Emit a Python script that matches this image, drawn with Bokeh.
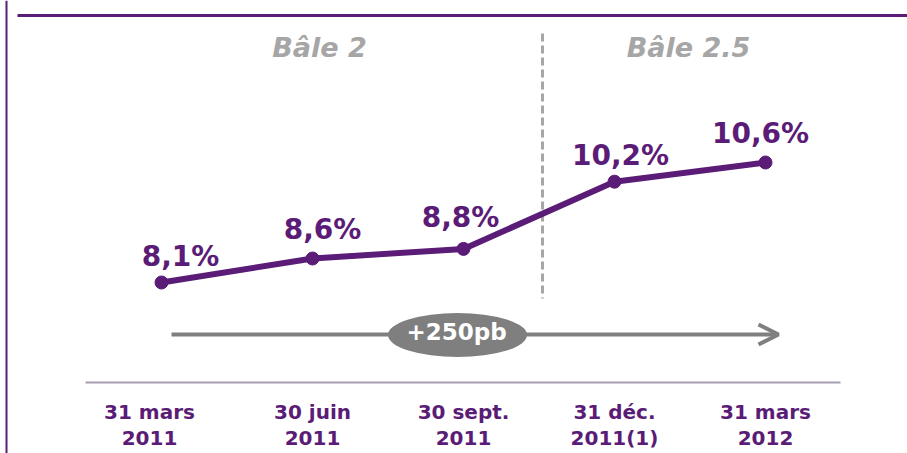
from bokeh.plotting import figure
from bokeh.models import Range1d, Arrow, OpenHead
from bokeh.core.properties import value
from bokeh.embed import file_html
from bokeh.resources import INLINE

# ---- data ----
categories = ["31 mars\n2011", "30 juin\n2011", "30 sept.\n2011", "31 déc.\n2011(1)", "31 mars\n2012"]
ratios = [8.1, 8.6, 8.8, 10.2, 10.6]
ratio_labels = ["8,1%", "8,6%", "8,8%", "10,2%", "10,6%"]
regimes = ["Bâle 2", "Bâle 2.5"]
delta_label = "+250pb"

# ---- layout (pixel geometry of the page) ----
W, H = 907, 453
X0, DX = 161, 151          # pixel x of first category, spacing
Y_ANCHOR, PX_PER_UNIT = 282, 48
Y_REF = ratios[0]

def dx(px):
    return (px - X0) / DX

def dy(py):
    return Y_REF + (Y_ANCHOR - py) / PX_PER_UNIT

PURPLE = "#5a1c76"
LGRAY = "#a6a6a6"
DGRAY = "#7f7f7f"
SEP = "#a59cae"

p = figure(width=W, height=H, output_backend="svg", toolbar_location=None,
           x_range=Range1d(dx(0), dx(W)), y_range=Range1d(dy(H), dy(0)),
           min_border=0)
p.styles = {"position": "absolute", "left": "0px", "top": "0px"}
p.xaxis.visible = False
p.yaxis.visible = False
p.grid.visible = False
p.outline_line_color = None
p.background_fill_color = "white"
p.border_fill_color = "white"

idx = list(range(len(categories)))

# frame lines
p.segment(x0=[dx(6)], y0=[dy(0)], x1=[dx(6)], y1=[dy(H)], line_color=PURPLE, line_width=2)
p.segment(x0=[dx(17)], y0=[dy(15)], x1=[dx(W)], y1=[dy(15)], line_color=PURPLE, line_width=3)

# regime separator
p.segment(x0=[dx(542)], y0=[dy(33)], x1=[dx(542)], y1=[dy(298)],
          line_color=LGRAY, line_width=3, line_dash="8 4")
p.text(x=[dx(319), dx(688)], y=[dy(47), dy(47)], text=regimes,
       text_color=LGRAY, text_font=value("DejaVu Sans"), text_font_style="bold italic",
       text_font_size="27px", text_align="center", text_baseline="alphabetic")

# arrow with ellipse (arrow drawn beneath)
p.add_layout(Arrow(end=OpenHead(size=20, line_width=4, line_color=DGRAY),
                   x_start=dx(171), y_start=dy(334), x_end=dx(778), y_end=dy(334),
                   line_width=4, line_color=DGRAY, level="underlay"))
p.ellipse(x=[dx(457)], y=[dy(334.5)], width=139, height=44,
          width_units="screen", height_units="screen",
          fill_color=DGRAY, line_color=None)
p.text(x=[dx(456)], y=[dy(331)], text=[delta_label], text_color="white",
       text_font=value("DejaVu Sans"), text_font_style="bold", text_font_size="23px",
       text_align="center", text_baseline="alphabetic")

# main series
p.line(x=idx, y=ratios, line_color=PURPLE, line_width=6)
p.scatter(x=idx, y=ratios, size=13, color=PURPLE)
p.text(x=idx, y=ratios, text=ratio_labels,
       x_offset=[19, 10, -3, 6, -5], y_offset=[-26, -29, -31, -26, -29],
       text_color=PURPLE, text_font=value("DejaVu Sans"), text_font_style="bold",
       text_font_size="28px", text_align="center", text_baseline="alphabetic")

# separator above categories
p.segment(x0=[dx(85)], y0=[dy(382)], x1=[dx(840)], y1=[dy(382)], line_color=SEP, line_width=2)

line1 = [c.split("\n")[0] for c in categories]
line2 = [c.split("\n")[1] for c in categories]
cat_off = [-12, 0, 0, 0, 0]
p.text(x=idx, y=[dy(411)] * len(idx), text=line1, x_offset=cat_off,
       text_color=PURPLE, text_font=value("DejaVu Sans"), text_font_style="bold",
       text_font_size="20px", text_align="center", text_baseline="alphabetic")
p.text(x=idx, y=[dy(437)] * len(idx), text=line2, x_offset=cat_off,
       text_color=PURPLE, text_font=value("DejaVu Sans"), text_font_style="bold",
       text_font_size="20px", text_align="center", text_baseline="alphabetic")

open("out.html", "w").write(file_html(p, INLINE))
